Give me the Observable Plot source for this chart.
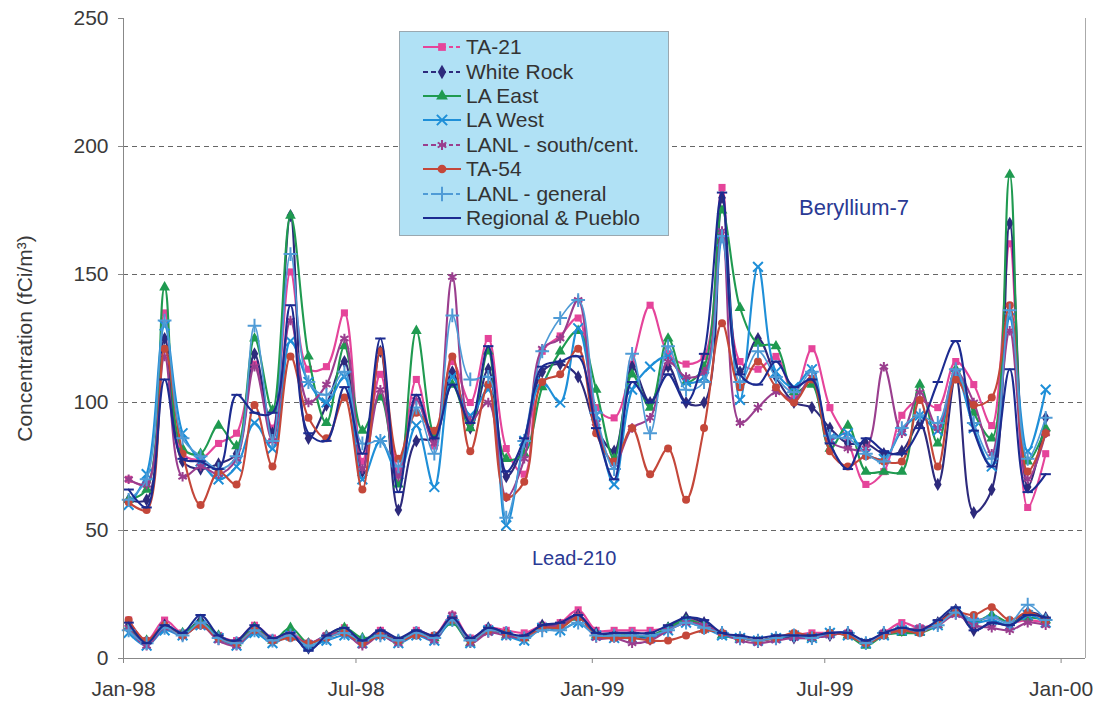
<!DOCTYPE html>
<html>
<head>
<meta charset="utf-8">
<script src="https://cdn.jsdelivr.net/npm/d3@7"></script>
<script src="https://cdn.jsdelivr.net/npm/@observablehq/plot@0.6"></script>
<style>
  html, body { margin: 0; padding: 0; background: #fff; }
  #wrap { position: relative; width: 1097px; height: 704px; font-family: "Liberation Sans", Arial, sans-serif; }
  #legend { position: absolute; left: 399px; top: 31px; width: 270px; height: 205px; background: #b0e1f5; border: 1px solid #9aa8b0; box-sizing: border-box; padding-top: 3px; }
  .row { display: flex; align-items: center; height: 24.4px; padding-left: 22px; font-size: 21px; color: #333; }
  .row svg { margin-right: 4px; }
</style>
</head>
<body>
<div id="wrap"><div id="chart"></div><div id="legend"></div></div>
<script>
// Sampling dates (biweekly)
const dates = ["1998-01-05","1998-01-19","1998-02-02","1998-02-16","1998-03-02","1998-03-16","1998-03-30","1998-04-13","1998-04-27","1998-05-11","1998-05-25","1998-06-08","1998-06-22","1998-07-06","1998-07-20","1998-08-03","1998-08-17","1998-08-31","1998-09-14","1998-09-28","1998-10-12","1998-10-26","1998-11-09","1998-11-23","1998-12-07","1998-12-21","1999-01-04","1999-01-18","1999-02-01","1999-02-15","1999-03-01","1999-03-15","1999-03-29","1999-04-12","1999-04-26","1999-05-10","1999-05-24","1999-06-07","1999-06-21","1999-07-05","1999-07-19","1999-08-02","1999-08-16","1999-08-30","1999-09-13","1999-09-27","1999-10-11","1999-10-25","1999-11-08","1999-11-22","1999-12-06","1999-12-20"];

const seriesNames = ["TA-21","White Rock","LA East","LA West","LANL - south/cent.","TA-54","LANL - general","Regional & Pueblo"];

// Beryllium-7 (fCi/m3)
const be7_TA21   = [70,68,135,80,78,84,88,115,90,151,113,114,135,77,111,74,109,83,116,100,125,82,72,120,126,133,98,94,115,138,119,115,118,184,116,113,118,103,121,98,85,68,73,95,101,98,116,107,91,162,59,80];
const be7_WR     = [62,62,125,77,74,76,80,119,88,173,86,99,116,73,120,58,85,86,112,90,113,71,84,112,115,110,90,81,114,100,114,100,100,180,112,125,110,100,98,90,84,84,80,81,92,68,110,57,66,170,67,94];
const be7_LAE    = [62,66,145,82,80,91,83,125,97,173,118,92,122,89,102,68,128,88,107,90,120,78,80,106,120,128,105,78,111,98,125,108,114,175,137,123,122,104,107,82,91,73,73,73,107,84,113,96,86,189,77,90];
const be7_LAW    = [60,72,130,88,77,70,75,92,82,124,108,100,110,70,85,72,91,67,110,95,105,52,85,108,100,129,95,68,105,114,118,108,110,163,101,153,112,106,113,86,88,80,78,89,95,89,111,90,75,133,81,105];
const be7_SC     = [70,68,118,71,75,72,78,114,85,132,100,107,125,74,105,71,101,84,149,93,100,63,78,121,125,140,92,76,90,94,116,110,112,167,92,98,104,101,110,85,82,82,114,88,104,90,112,100,80,128,70,88];
const be7_TA54   = [61,58,121,80,60,73,68,99,75,118,94,86,102,66,120,78,96,89,118,81,107,63,69,108,111,121,88,77,90,72,82,62,90,131,106,116,106,100,109,81,75,79,77,77,101,75,109,99,102,138,73,88];
const be7_GEN    = [62,70,132,86,79,74,79,130,85,158,108,103,112,84,85,75,98,80,134,109,110,55,85,120,133,140,96,74,119,88,122,105,108,165,108,120,110,104,112,87,86,80,77,90,95,92,113,92,78,136,78,94];
const be7_REG    = [66,59,109,78,77,74,103,96,96,138,88,85,106,80,125,65,103,86,107,92,122,73,86,114,116,118,90,70,108,100,111,100,119,182,111,107,116,106,109,84,74,86,81,80,90,108,124,89,75,113,65,72];

// Lead-210 (fCi/m3)
const pb210_TA21 = [15,7,15,10,14,9,7,13,8,10,6,9,12,7,11,7,11,9,17,8,12,11,10,13,14,19,11,11,11,11,12,15,14,9,8,7,8,9,10,10,10,6,10,14,12,14,18,15,16,14,15,14];
const pb210_WR   = [13,6,13,9,15,8,6,12,7,9,4,8,11,6,10,7,10,8,16,7,12,10,8,13,13,17,10,9,9,8,12,16,14,10,8,7,8,8,8,9,10,6,10,11,11,14,19,11,14,13,18,16];
const pb210_LAE  = [12,7,12,10,14,9,6,12,7,12,6,9,12,8,9,7,10,8,14,6,11,9,8,12,12,16,9,9,9,9,12,15,13,9,8,7,8,9,8,10,9,5,9,10,10,13,18,14,17,14,16,15];
const pb210_LAW  = [10,5,11,9,13,8,5,10,6,9,5,7,9,6,9,6,9,7,15,6,11,9,7,12,11,14,9,8,8,8,11,14,12,9,8,7,8,9,8,10,9,6,9,11,11,13,18,14,15,13,17,14];
const pb210_SC   = [12,5,12,9,13,7,5,11,7,9,6,9,10,5,9,6,10,7,17,6,10,9,8,12,13,17,8,8,6,7,11,14,13,10,7,6,7,8,8,9,10,6,10,11,12,13,17,13,12,11,14,13];
const pb210_TA54 = [15,7,13,9,13,8,6,11,7,8,6,8,10,6,9,7,9,9,15,7,11,10,8,12,12,16,9,8,8,7,7,9,11,10,8,7,8,10,9,10,9,6,9,11,10,14,18,17,20,15,18,15];
const pb210_GEN  = [11,6,12,9,14,8,6,11,7,9,5,8,10,7,9,7,10,8,15,7,11,10,8,11,11,14,9,9,9,9,11,14,12,10,8,7,8,9,8,10,10,6,10,12,11,13,18,15,16,14,21,15];
const pb210_REG  = [14,6,13,10,17,9,7,13,8,10,3,9,12,7,11,8,11,9,16,8,12,10,9,13,14,17,10,10,10,10,13,16,15,10,9,8,9,9,9,10,10,7,10,12,11,15,20,11,14,13,17,16];

// Axis ticks
const xTickDates  = ["1998-01-01","1998-07-01","1999-01-01","1999-07-01","2000-01-01"];
const xTickLabels = ["Jan-98","Jul-98","Jan-99","Jul-99","Jan-00"];
const yTicks = [0,50,100,150,200,250];
const gridValues = [50,100,150,200];

// Annotations
const annoLabels = ["Beryllium-7","Lead-210"];
const annoDates  = ["1999-06-11","1998-11-15"];
const annoValues = [176,39];
const annoSizes  = [22,20];

// ---- build ----
const be7All = [be7_TA21, be7_WR, be7_LAE, be7_LAW, be7_SC, be7_TA54, be7_GEN, be7_REG];
const pbAll  = [pb210_TA21, pb210_WR, pb210_LAE, pb210_LAW, pb210_SC, pb210_TA54, pb210_GEN, pb210_REG];

const colors = ["#e5449a","#2d2a7c","#1f9a50","#1e8fd8","#9a3e8e","#c4473a","#4f9bd6","#1c2b90"];
const dashSym = { draw(ctx, size) { const w = Math.sqrt(size) * 0.65; ctx.moveTo(-w, 0); ctx.lineTo(w, 0); } };
const symbols = ["square","diamond","triangle","times","asterisk","circle","plus", dashSym];
const d3symbols = [d3.symbolSquare, d3.symbolDiamond, d3.symbolTriangle, d3.symbolTimes, d3.symbolAsterisk, d3.symbolCircle, d3.symbolPlus, dashSym];
const filled = [true,true,true,false,false,true,false,false];
// legend line style: [left part dashed, right part dashed]
const legendDash = [[false,true],[true,true],[false,false],[false,false],[true,true],[false,false],[true,true],[false,false]];

const parse = d3.utcParse("%Y-%m-%d");
const rows = [];
seriesNames.forEach((name, k) => {
  dates.forEach((d, i) => {
    rows.push({series: k, name, element: "Be-7", date: parse(d), value: be7All[k][i]});
  });
  dates.forEach((d, i) => {
    rows.push({series: k, name, element: "Pb-210", date: parse(d), value: pbAll[k][i]});
  });
});

const marks = [
  Plot.ruleY(gridValues, {stroke: "#666", strokeWidth: 1.2, strokeDasharray: "5,4"}),
  Plot.ruleX([parse("2000-01-20")], {stroke: "#aaa"}),
];
seriesNames.forEach((name, k) => {
  const data = rows.filter(r => r.series === k);
  marks.push(Plot.line(data, {x: "date", y: "value", z: "element", stroke: colors[k], strokeWidth: k === 6 ? 1.6 : 2.1, curve: "catmull-rom"}));
  marks.push(Plot.dot(data, filled[k]
    ? {x: "date", y: "value", symbol: () => symbols[k], r: 4, fill: colors[k], stroke: "none"}
    : {x: "date", y: "value", symbol: () => symbols[k], r: 4.5, stroke: colors[k], strokeWidth: 2, fill: "none"}));
});
marks.push(
  Plot.text(annoLabels, {x: (d, i) => parse(annoDates[i]), y: (d, i) => annoValues[i], text: d => d, textAnchor: "start", fill: "#2a3a94", fontSize: (d, i) => annoSizes[i]}),
  Plot.ruleX([parse("1998-01-01")], {stroke: "#888"}),
  Plot.ruleY([0], {stroke: "#888"}),
  Plot.axisX({ticks: xTickDates.map(parse), tickFormat: (d, i) => xTickLabels[i], tickSize: 5, tickPadding: 18, stroke: "#888", label: null}),
  Plot.axisY({ticks: yTicks, tickSize: 5, tickPadding: 10, stroke: "#888", label: "Concentration (fCi/m³)", labelAnchor: "center", labelArrow: "none", labelOffset: 106})
);

const chart = Plot.plot({
  width: 1097, height: 704,
  marginTop: 18, marginRight: 12, marginBottom: 46, marginLeft: 123,
  x: {type: "utc", domain: [parse("1998-01-01"), parse("2000-01-20")]},
  y: {domain: [0, 250]},
  symbol: {type: "identity"},
  style: {fontFamily: "Liberation Sans, Arial, sans-serif", fontSize: "21px", color: "#3a3a3a", background: "#fff"},
  marks
});
document.getElementById("chart").appendChild(chart);

// Legend (HTML overlay inside plot area)
const legend = d3.select("#legend");
seriesNames.forEach((name, k) => {
  const row = legend.append("div").attr("class", "row");
  const svg = row.append("svg").attr("width", 40).attr("height", 16);
  svg.append("line").attr("x1", 1).attr("x2", 20).attr("y1", 8).attr("y2", 8)
    .attr("stroke", colors[k]).attr("stroke-width", 2)
    .attr("stroke-dasharray", legendDash[k][0] ? "5,3" : null);
  svg.append("line").attr("x1", 20).attr("x2", 39).attr("y1", 8).attr("y2", 8)
    .attr("stroke", colors[k]).attr("stroke-width", 2)
    .attr("stroke-dasharray", legendDash[k][1] ? "4,3" : null);
  const sym = d3.symbol(d3symbols[k], filled[k] ? 60 : 70);
  svg.append("path").attr("d", sym()).attr("transform", "translate(20,8)")
    .attr("fill", filled[k] ? colors[k] : "none")
    .attr("stroke", filled[k] ? "none" : colors[k]).attr("stroke-width", 2);
  row.append("span").text(name);
});
</script>
</body>
</html>
